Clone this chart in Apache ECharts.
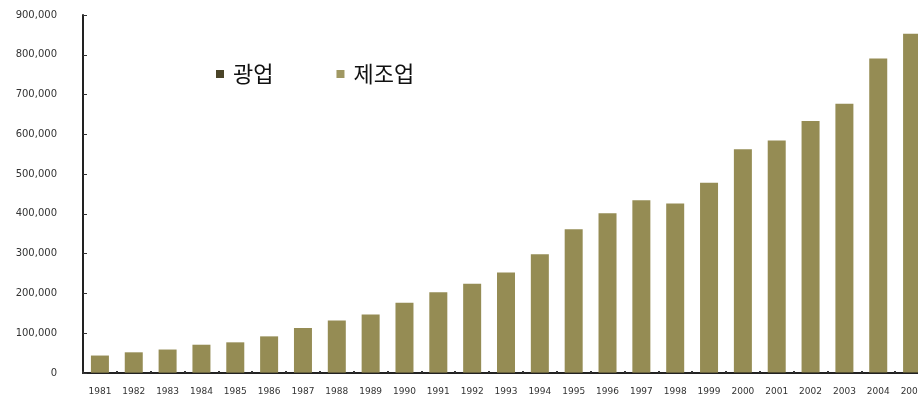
<!DOCTYPE html>
<html>
<head>
<meta charset="utf-8">
<script src="https://cdn.jsdelivr.net/npm/echarts@6/dist/echarts.min.js"></script>
<style>
html,body{margin:0;padding:0;background:#fff;}
#c{width:918px;height:399px;}
</style>
</head>
<body>
<div id="c"></div>
<script>
var years = ['1981','1982','1983','1984','1985','1986','1987','1988','1989','1990','1991','1992','1993','1994','1995','1996','1997','1998','1999','2000','2001','2002','2003','2004','2005'];
var mining = [900,1000,1000,1100,1100,1100,1200,1200,1200,1300,1300,1300,1400,1400,1400,1500,1500,1400,1500,1600,1600,1700,1700,1800,1900];
var manufacturing = [43000,51000,58000,70000,76000,91000,112000,131000,146000,175000,202000,223000,251000,297000,360000,400000,433000,425000,477000,561000,583000,632000,675000,789000,851000];
var yMax = 900000;
var yStep = 100000;

var chart = echarts.init(document.getElementById('c'), null, {renderer:'canvas'});
chart.setOption({
  animation:false,
  backgroundColor:'#ffffff',
  legend:{
    left:211, top:58,
    itemWidth:8, itemHeight:8, itemGap:63,
    icon:'rect',
    textStyle:{fontFamily:'Noto Sans CJK KR', fontSize:22, fontWeight:'normal', color:'#111', padding:[0,0,0,4]},
    data:[{name:'광업', itemStyle:{color:'#4a4428'}},{name:'제조업', itemStyle:{color:'#a09862'}}]
  },
  grid:{left:83, width:846, top:15, bottom:26, containLabel:false, outerBoundsMode:'none'},
  xAxis:{
    type:'category', data:years,
    axisLine:{lineStyle:{color:'#222', width:2}},
    axisTick:{show:true, inside:true, length:2, alignWithLabel:false, lineStyle:{color:'#333', width:2}},
    axisLabel:{interval:0, margin:14, fontFamily:'DejaVu Sans', fontSize:9, color:'#333'}
  },
  yAxis:{
    type:'value', min:0, max:yMax, interval:yStep,
    splitLine:{show:false},
    axisLine:{show:true, lineStyle:{color:'#222', width:2}},
    axisTick:{show:true, inside:true, length:4, lineStyle:{color:'#333', width:1}},
    axisLabel:{margin:26, fontFamily:'DejaVu Sans', fontSize:10, color:'#333',
      formatter:function(v){return v===0?'0':v.toLocaleString('en-US');}}
  },
  series:[
    {name:'광업', type:'bar', stack:'s', data:mining, barWidth:18, itemStyle:{color:'#4a4428'}},
    {name:'제조업', type:'bar', stack:'s', data:manufacturing, barWidth:18, itemStyle:{color:'#958c54'}}
  ]
});
</script>
</body>
</html>
